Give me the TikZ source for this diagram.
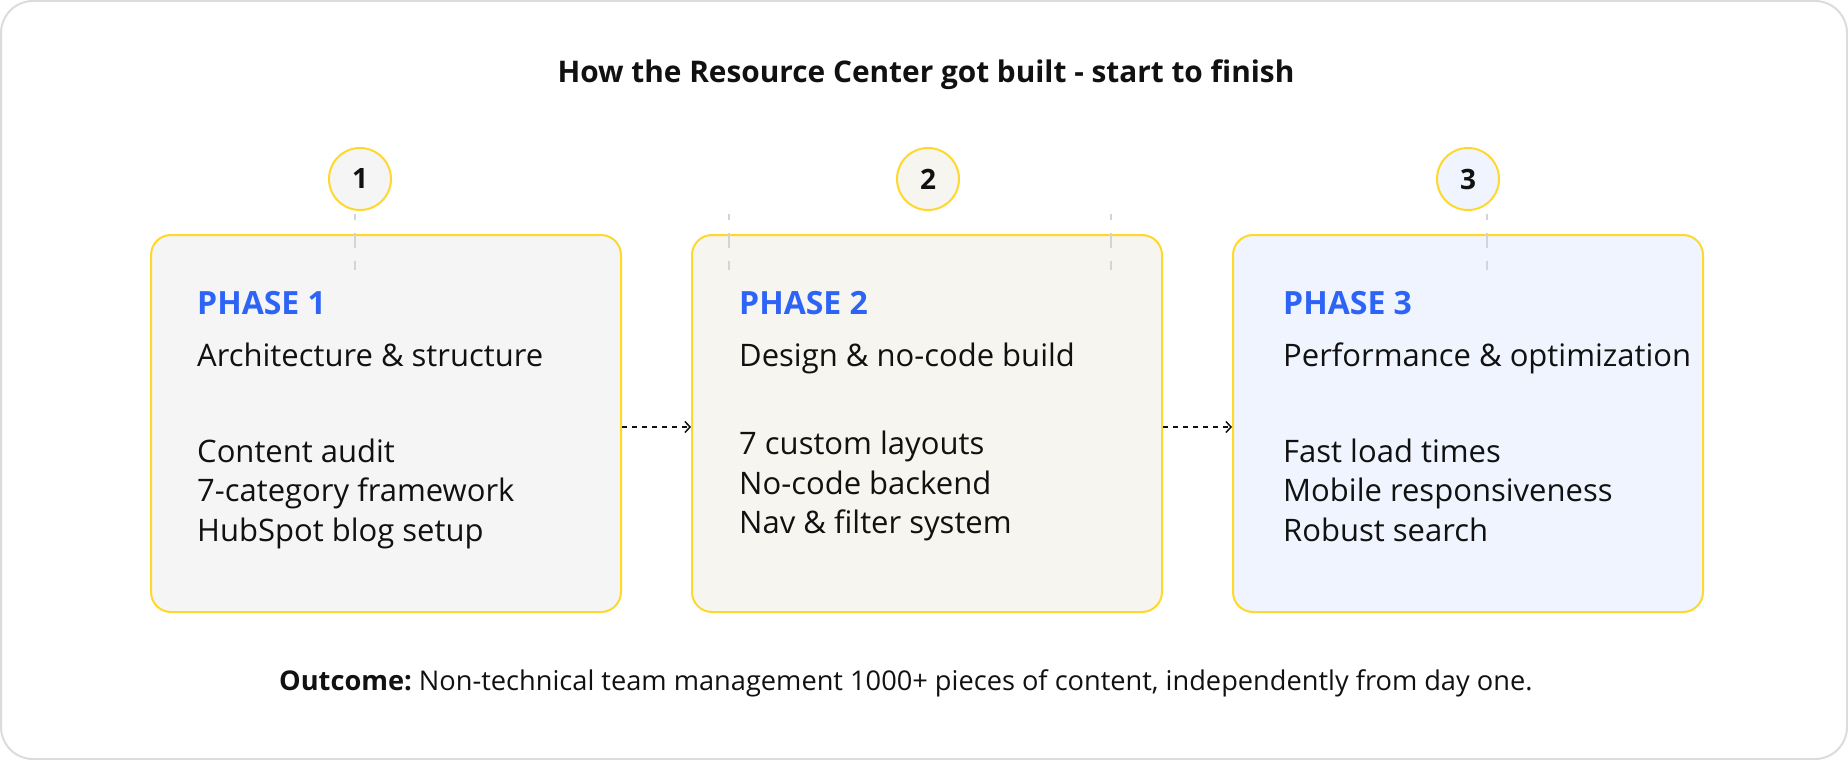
\documentclass[tikz,border=0pt]{standalone}
\usepackage{fontspec}
\setmainfont{Open Sans}
\usetikzlibrary{arrows.meta}
\definecolor{ybord}{RGB}{255,216,46}
\definecolor{phaseblue}{RGB}{46,100,246}
\definecolor{fillone}{RGB}{245,245,245}
\definecolor{filltwo}{RGB}{247,245,239}
\definecolor{fillthree}{RGB}{239,244,254}
\definecolor{outergrey}{RGB}{220,220,220}
\definecolor{guidegrey}{RGB}{212,212,216}
\definecolor{ink}{RGB}{17,17,17}
\frenchspacing
\tikzset{
  phasebox/.style={draw=ybord, line width=2pt, rounded corners=20pt,
    minimum width=470pt, minimum height=377pt, inner sep=0pt},
  stepnum/.style={circle, draw=ybord, line width=2pt, minimum size=62pt,
    inner sep=0pt, text=ink, font=\fontsize{28}{30}\selectfont\bfseries},
  phaselabel/.style={anchor=base west, inner sep=0pt, text=phaseblue,
    font=\fontsize{32}{38}\selectfont\bfseries},
  bodytext/.style={anchor=base west, inner sep=0pt, text=ink,
    font=\fontsize{31}{37}\selectfont},
  titletext/.style={anchor=base, inner sep=0pt, text=ink,
    font=\fontsize{29.8}{34}\selectfont\bfseries},
  outcometext/.style={anchor=base west, inner sep=0pt, text=ink,
    font=\fontsize{27.2}{33}\selectfont},
  guide/.style={draw=guidegrey, line width=2pt, dash pattern=on 15pt off 13pt, dash phase=9pt},
  flow/.style={draw=ink, line width=1.5pt, dash pattern=on 5pt off 5pt,
    -{Straight Barb[length=5pt,width=11pt,line width=1.5pt]}}
}
\begin{document}
\begin{tikzpicture}[x=1pt,y=-1pt]
\useasboundingbox (0,0) rectangle (1848,760);
\draw[outergrey, line width=2pt, fill=white, rounded corners=32pt] (1,1) rectangle (1847,759);

% title
\node[titletext] (title) at (926,83) {How the Resource Center got built - start to finish};

% phase boxes
\node[phasebox, fill=fillone]   (b1) at (386,423.5) {};
\node[phasebox, fill=filltwo]   (b2) at (927,423.5) {};
\node[phasebox, fill=fillthree] (b3) at (1468,423.5) {};

% step circles
\node[stepnum, fill=fillone]   (c1) at (360,179) {1};
\node[stepnum, fill=filltwo]   (c2) at (928,179) {2};
\node[stepnum, fill=fillthree] (c3) at (1468,179) {3};

% guide marks
\coordinate (g1a) at (355,214);  \coordinate (g1b) at (355,270);
\coordinate (g2a) at (729,214);  \coordinate (g2b) at (729,270);
\coordinate (g3a) at (1111,214); \coordinate (g3b) at (1111,270);
\coordinate (g4a) at (1487,214); \coordinate (g4b) at (1487,270);
\draw[guide] (g1a) -- (g1b);
\draw[guide] (g2a) -- (g2b);
\draw[guide] (g3a) -- (g3b);
\draw[guide] (g4a) -- (g4b);

% phase 1
\node[phaselabel] (p1) at (197,314) {PHASE 1};
\node[bodytext] (s1) at (197,366) {Architecture \& structure};
\node[bodytext] (l11) at (197,462) {Content audit};
\node[bodytext] (l12) at (197,501) {7-category framework};
\node[bodytext] (l13) at (197,541) {HubSpot blog setup};

% phase 2
\node[phaselabel] (p2) at (739,314) {PHASE 2};
\node[bodytext] (s2) at (739,366) {Design \& no-code build};
\node[bodytext] (l21) at (739,454) {7 custom layouts};
\node[bodytext] (l22) at (739,494) {No-code backend};
\node[bodytext] (l23) at (739,533) {Nav \& filter system};

% phase 3
\node[phaselabel] (p3) at (1283,314) {PHASE 3};
\node[bodytext] (s3) at (1283,366) {Performance \& optimization};
\node[bodytext] (l31) at (1283,462) {Fast load times};
\node[bodytext] (l32) at (1283,501) {Mobile responsiveness};
\node[bodytext] (l33) at (1283,541) {Robust search};

% flow arrows
\draw[flow] ([yshift=-3.5pt]b1.east) -- ([yshift=-3.5pt]b2.west);
\draw[flow] ([yshift=-3.5pt]b2.east) -- ([yshift=-3.5pt]b3.west);

% outcome
\node[outcometext] (out) at (279,690) {\textbf{Outcome:} Non-technical team management 1000+ pieces of content, independently from day one.};
\end{tikzpicture}
\end{document}
